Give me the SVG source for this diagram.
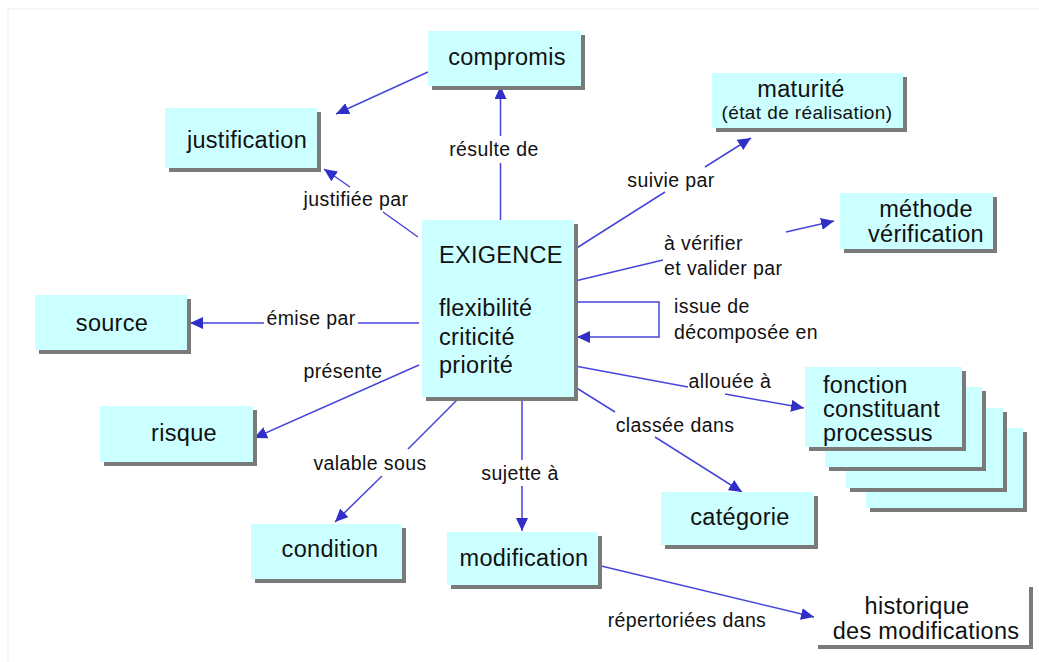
<svg xmlns="http://www.w3.org/2000/svg" width="1039" height="662" viewBox="0 0 1039 662">
<style>
.box{fill:#ccffff}
.sh{fill:#7a7a7a}
.nt{font-family:"Liberation Sans",Arial,sans-serif;font-size:23.5px;letter-spacing:0.3px;fill:#111}
.lb{font-family:"Liberation Sans",Arial,sans-serif;font-size:19.5px;letter-spacing:0.4px;fill:#111}
.c{text-anchor:middle}
.cn{fill:none;stroke:#4646dc;stroke-width:1.5}
</style>
<defs>
<marker id="ah" markerUnits="userSpaceOnUse" markerWidth="14" markerHeight="12" refX="13" refY="6" orient="auto">
<path d="M0,0 L13,6 L0,12 z" fill="#3030c8"/>
</marker>
</defs>
<rect width="1039" height="662" fill="#ffffff"/>
<path d="M8,662 V9 H1039" fill="none" stroke="#ededed" stroke-width="1"/>

<g id="connectors">
<path class="cn" d="M428,72 L336,114" marker-end="url(#ah)"/>
<path class="cn" d="M500.5,220 V163 M500.5,136 V86" marker-end="url(#ah)"/>
<path class="cn" d="M418,237 L383,212 M350,187 L324,169" marker-end="url(#ah)"/>
<path class="cn" d="M575,249 L665,192 M705,167 L751,138" marker-end="url(#ah)"/>
<path class="cn" d="M575,281 L663,260 M786,232 L834,221" marker-end="url(#ah)"/>
<path class="cn" d="M419,323 H358 M264,323 H190" marker-end="url(#ah)"/>
<path class="cn" d="M419,365 L254,438" marker-end="url(#ah)"/>
<path class="cn" d="M460,397 L408,449 M382,476 L335,522" marker-end="url(#ah)"/>
<path class="cn" d="M522,397 V460 M522,486 V531" marker-end="url(#ah)"/>
<path class="cn" d="M576,302 H659 V337 H577" marker-end="url(#ah)"/>
<path class="cn" d="M575,366 L688,387 M725,394 L804,408" marker-end="url(#ah)"/>
<path class="cn" d="M575,387 L615,412 M655,437 L742,492" marker-end="url(#ah)"/>
<path class="cn" d="M597,565 L814,617" marker-end="url(#ah)"/>
</g>

<g id="labels">
<text class="lb c" x="494" y="156">résulte de</text>
<text class="lb c" x="356" y="206">justifiée par</text>
<text class="lb c" x="671" y="187">suivie par</text>
<text class="lb" x="664" y="250">à vérifier</text>
<text class="lb" x="664" y="275">et valider par</text>
<text class="lb c" x="311" y="325">émise par</text>
<text class="lb c" x="343" y="378">présente</text>
<text class="lb c" x="370" y="470">valable sous</text>
<text class="lb c" x="520" y="480">sujette à</text>
<text class="lb" x="674" y="313">issue de</text>
<text class="lb" x="674" y="339">décomposée en</text>
<text class="lb c" x="730" y="388">allouée à</text>
<text class="lb c" x="675" y="432">classée dans</text>
<text class="lb c" x="687" y="627">répertoriées dans</text>
</g>

<g id="n-compromis">
<rect class="sh" x="432" y="35" width="153" height="55"/>
<rect class="box" x="428" y="31" width="153" height="55"/>
<text class="nt c" x="507" y="65">compromis</text>
</g>
<g id="n-justification">
<rect class="sh" x="169" y="112" width="152" height="60"/>
<rect class="box" x="165" y="108" width="152" height="60"/>
<text class="nt c" x="247" y="148">justification</text>
</g>
<g id="n-maturite">
<rect class="sh" x="716" y="77" width="191" height="55"/>
<rect class="box" x="712" y="73" width="191" height="55"/>
<text class="nt c" x="801" y="97">maturité</text>
<text class="lb c" x="807" y="119" style="font-size:19px">(état de réalisation)</text>
</g>
<g id="n-methode">
<rect class="sh" x="844" y="197" width="153" height="56"/>
<rect class="box" x="840" y="193" width="153" height="56"/>
<text class="nt c" x="926" y="217">méthode</text>
<text class="nt c" x="926" y="242">vérification</text>
</g>
<g id="n-exigence">
<rect class="sh" x="426" y="224" width="152" height="177"/>
<rect class="box" x="422" y="220" width="152" height="177"/>
<text class="nt" x="439" y="263">EXIGENCE</text>
<text class="nt" x="439" y="316">flexibilité</text>
<text class="nt" x="439" y="344.5">criticité</text>
<text class="nt" x="439" y="373">priorité</text>
</g>
<g id="n-source">
<rect class="sh" x="39" y="299" width="152" height="55"/>
<rect class="box" x="35" y="295" width="152" height="55"/>
<text class="nt c" x="112" y="331">source</text>
</g>
<g id="n-risque">
<rect class="sh" x="104" y="410" width="153" height="56"/>
<rect class="box" x="100" y="406" width="153" height="56"/>
<text class="nt c" x="184" y="441">risque</text>
</g>
<g id="n-condition">
<rect class="sh" x="255" y="528" width="151" height="55"/>
<rect class="box" x="251" y="524" width="151" height="55"/>
<text class="nt c" x="330" y="557">condition</text>
</g>
<g id="n-modification">
<rect class="sh" x="451" y="536" width="151" height="53"/>
<rect class="box" x="447" y="532" width="151" height="53"/>
<text class="nt c" x="524" y="566">modification</text>
</g>
<g id="n-categorie">
<rect class="sh" x="665" y="496" width="153" height="53"/>
<rect class="box" x="661" y="492" width="153" height="53"/>
<text class="nt c" x="740" y="525">catégorie</text>
</g>
<g id="n-fonction">
<rect class="sh" x="870" y="432" width="157" height="80"/>
<rect class="box" x="866" y="428" width="157" height="80"/>
<rect class="sh" x="850" y="412" width="157" height="80"/>
<rect class="box" x="846" y="408" width="157" height="80"/>
<rect class="sh" x="829" y="391" width="157" height="80"/>
<rect class="box" x="825" y="387" width="157" height="80"/>
<rect class="sh" x="809" y="371" width="157" height="80"/>
<rect class="box" x="805" y="367" width="157" height="80"/>
<text class="nt" x="823" y="393">fonction</text>
<text class="nt" x="823" y="417">constituant</text>
<text class="nt" x="823" y="441">processus</text>
</g>
<g id="n-historique">
<rect class="sh" x="818" y="587" width="215" height="62"/>
<rect fill="#ffffff" x="814" y="583" width="215" height="62"/>
<text class="nt c" x="917" y="614">historique</text>
<text class="nt c" x="926" y="639">des modifications</text>
</g>
</svg>
